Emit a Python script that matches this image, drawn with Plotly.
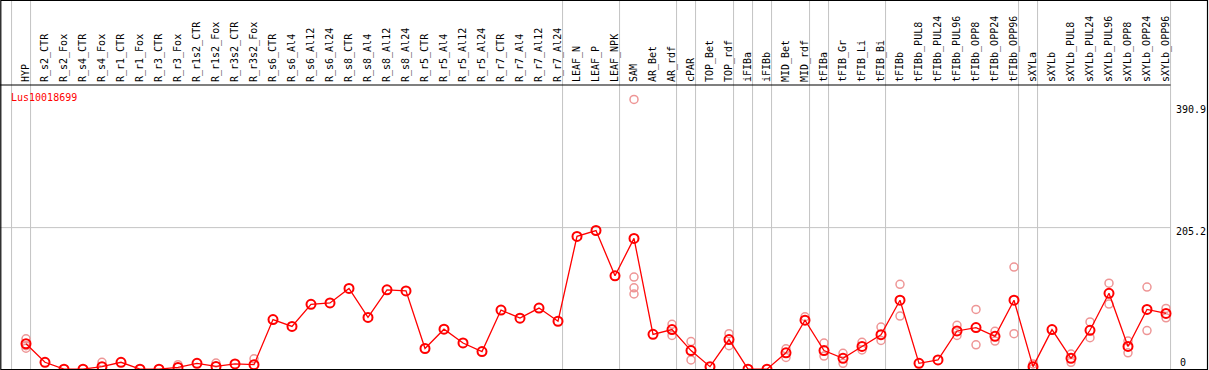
import plotly.graph_objects as go

gene = "Lus10018699"

categories = [
    "HYP", "R_s2_CTR", "R_s2_Fox", "R_s4_CTR", "R_s4_Fox", "R_r1_CTR", "R_r1_Fox",
    "R_r3_CTR", "R_r3_Fox", "R_r1s2_CTR", "R_r1s2_Fox", "R_r3s2_CTR", "R_r3s2_Fox",
    "R_s6_CTR", "R_s6_Al4", "R_s6_Al12", "R_s6_Al24", "R_s8_CTR", "R_s8_Al4",
    "R_s8_Al12", "R_s8_Al24", "R_r5_CTR", "R_r5_Al4", "R_r5_Al12", "R_r5_Al24",
    "R_r7_CTR", "R_r7_Al4", "R_r7_Al12", "R_r7_Al24", "LEAF_N", "LEAF_P", "LEAF_NPK",
    "SAM", "AR_Bet", "AR_rdf", "cPAR", "TOP_Bet", "TOP_rdf", "iFIBa", "iFIBb",
    "MID_Bet", "MID_rdf", "tFIBa", "tFIB_Gr", "tFIB_Li", "tFIB_Bi", "tFIBb",
    "tFIBb_PUL8", "tFIBb_PUL24", "tFIBb_PUL96", "tFIBb_OPP8", "tFIBb_OPP24",
    "tFIBb_OPP96", "sXYLa", "sXYLb", "sXYLb_PUL8", "sXYLb_PUL24", "sXYLb_PUL96",
    "sXYLb_OPP8", "sXYLb_OPP24", "sXYLb_OPP96",
]

# number of consecutive samples in each separated group
group_sizes = [1, 28, 3, 3, 1, 2, 1, 1, 2, 1, 3, 7, 1, 7]

mean_values = [
    36.9, 10, 0, 0, 3.7, 10, 0, 0, 2.6, 8.5, 4, 7.6, 6.6,
    72, 62, 94, 96, 117, 75, 115, 113.5, 30, 58, 38, 25.6, 85.7, 74, 88.6, 69.5,
    192.5, 201, 135.4,
    189.6, 50.5, 57.4, 27, 3.7, 43, 0, 0, 23.7, 71,
    27, 15.8, 33, 50, 100, 8.5, 13.5, 55.4, 60.3, 47.6, 100,
    3.7, 57.4, 15.8, 56.4, 110, 33, 86.6, 80.8,
]

replicate_values = [
    [44, 34, 30.5], [], [], [], [10], [], [], [], [6.6], [], [9], [], [15],
    [], [], [], [], [], [], [], [], [], [], [], [], [], [], [], [],
    [], [], [],
    [390.9, 133.5, 118, 109], [], [65, 49], [40, 13.5], [], [51.5, 34], [], [],
    [29.5, 17], [76],
    [37.8, 19], [23, 8.5], [39, 28], [61, 41.7], [123, 77], [], [], [63.7, 49],
    [86.6, 35.4], [55, 40.7], [148, 51.5],
    [7.6, 0.7], [], [22, 10], [68.5, 45.7], [124.7, 94.4], [40.7, 23.7], [119, 56],
    [88, 74.4],
]

scale_labels = [390.9, 205.2, 0]

# ---------------------------------------------------------------------------
W, H = 1209, 370
TOP = 85          # pixel height of the label band
PX_STEP = 19      # pixels per sample
X0_PX = 26        # pixel of first sample
ZERO_PX = 369.2   # pixel of value 0
PX_PER_UNIT = 0.69

xmin = -X0_PX / PX_STEP
xmax = (W - X0_PX) / PX_STEP
ymin = (ZERO_PX - H) / PX_PER_UNIT
ymax = (ZERO_PX - TOP) / PX_PER_UNIT

xs = list(range(len(categories)))

rep_x, rep_y = [], []
for i, reps in enumerate(replicate_values):
    for v in reps:
        rep_x.append(i)
        rep_y.append(v)

fig = go.Figure()
fig.add_trace(go.Scatter(
    x=rep_x, y=rep_y, mode="markers",
    marker=dict(symbol="circle-open", size=8, color="rgb(238,150,150)",
                line=dict(width=1.5)),
    hoverinfo="skip", showlegend=False,
))
fig.add_trace(go.Scatter(
    x=xs, y=mean_values, mode="lines+markers",
    line=dict(color="red", width=1.3),
    marker=dict(symbol="circle-open", size=9, color="red", line=dict(width=2)),
    showlegend=False,
))

# group separators
bounds = [-1 + 0.24]
acc = 0
for s in group_sizes:
    acc += s
    bounds.append(acc - 1 + 0.24)
last = bounds[-1]

top_paper = (H - 0) / (H - TOP)
shapes = []
for b in bounds:
    shapes.append(dict(type="line", xref="x", yref="paper", x0=b, x1=b,
                       y0=0, y1=top_paper, line=dict(color="#c4c4c4", width=1),
                       layer="below"))
# grid line at mid scale value
shapes.append(dict(type="line", xref="x", yref="y", x0=xmin, x1=last,
                   y0=scale_labels[1], y1=scale_labels[1],
                   line=dict(color="#c4c4c4", width=1), layer="below"))
# separator under labels
shapes.append(dict(type="line", xref="x", yref="paper", x0=xmin, x1=last,
                   y0=1, y1=1, line=dict(color="black", width=1.2)))
# frame
shapes.append(dict(type="rect", xref="paper", yref="paper",
                   x0=0.8 / W, x1=1207.5 / W,
                   y0=(H - 369.5) / (H - TOP), y1=(H - 0.5) / (H - TOP),
                   line=dict(color="black", width=1.2)))

annotations = [dict(
    text=gene, xref="paper", yref="paper", x=9 / W, y=(H - 97) / (H - TOP),
    xanchor="left", yanchor="middle", showarrow=False,
    font=dict(family="DejaVu Sans Mono", size=10, color="red"),
)]
label_shift = {390.9: -10, 205.2: -4, 0: 7}
for v in scale_labels:
    annotations.append(dict(
        text=f"{v:g}", xref="paper", yref="y", x=1207.5 / W, y=v,
        xanchor="right" if v != 0 else "left", yanchor="middle", showarrow=False,
        yshift=label_shift[v], xshift=0 if v != 0 else -30,
        font=dict(family="DejaVu Sans Mono", size=10, color="black"),
    ))

fig.update_layout(
    width=W, height=H,
    margin=dict(l=0, r=0, t=TOP, b=0, pad=0, autoexpand=False),
    paper_bgcolor="white", plot_bgcolor="white",
    xaxis=dict(range=[xmin, xmax], side="top", tickmode="array",
               tickvals=xs, ticktext=categories, tickangle=-90, ticks="",
               showgrid=False, zeroline=False, showline=False,
               ticklabelstandoff=2,
               tickfont=dict(family="DejaVu Sans Mono", size=10, color="black")),
    yaxis=dict(range=[ymin, ymax], showgrid=False, zeroline=False,
               showticklabels=False, showline=False),
    shapes=shapes, annotations=annotations,
)

fig.write_html(
    "out.html",
    config={"displayModeBar": False},
    post_script="document.body.style.margin='0';document.body.style.overflow='hidden';",
)
